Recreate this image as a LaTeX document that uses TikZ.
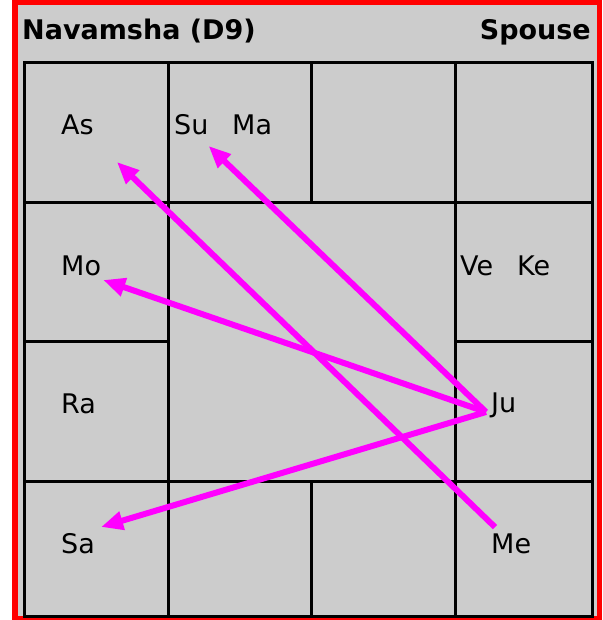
\documentclass[tikz,border=0pt]{standalone}
\usepackage{fontspec}
\setmainfont{DejaVu Sans}
\usetikzlibrary{arrows.meta}
\definecolor{chartbg}{HTML}{CCCCCC}
\definecolor{frame}{HTML}{FF0000}
\definecolor{aspect}{HTML}{FF00FF}

\begin{document}
\begin{tikzpicture}[
      x=1pt, y=-1pt,
      every node/.style={inner sep=0pt, anchor=base west},
      planet/.style={font=\fontsize{27}{27}\selectfont},
      heading/.style={font=\bfseries\fontsize{27}{27}\selectfont},
      gridline/.style={line width=3pt, black},
      arr/.style={-{Triangle[length=22pt,width=18pt]}, draw=aspect, line width=6pt},
    ]
    \useasboundingbox (0,0) rectangle (602,620);
    \fill[chartbg] (12,0) rectangle (602,620);
    \draw[frame, line width=5.5pt] (14.75,2.75) rectangle (599.25,618.5);

    % chart grid
    \draw[gridline] (24,63) rectangle (592,616);
    \draw[gridline] (168,63) -- (168,616);
    \draw[gridline] (455,63) -- (455,616);
    \draw[gridline] (311,63) -- (311,203);
    \draw[gridline] (311,481) -- (311,616);
    \draw[gridline] (24,203) -- (592,203);
    \draw[gridline] (24,481) -- (592,481);
    \draw[gridline] (24,341) -- (168,341);
    \draw[gridline] (455,341) -- (592,341);

    \node[heading] (title) at (22,40) {Navamsha (D9)};
    \node[heading, anchor=base east] (spouse) at (591,40) {Spouse};

    \node[planet] (as) at (61,135) {As};
    \node[planet] (su) at (174,135) {Su};
    \node[planet] (ma) at (232,135) {Ma};
    \node[planet] (mo) at (61,275) {Mo};
    \node[planet] (ve) at (460,275) {Ve};
    \node[planet] (ke) at (517,275) {Ke};
    \node[planet] (ra) at (61,413) {Ra};
    \node[planet] (ju) at (491,412) {Ju};
    \node[planet] (sa) at (61,553) {Sa};
    \node[planet] (me) at (491,553) {Me};

    \coordinate (ju tail) at ([xshift=-5pt]ju.base west);
    \coordinate (me tail) at ([xshift=4pt,yshift=6pt]me.north west);
    \coordinate (as tip) at ([xshift=23pt,yshift=-27pt]as.base east);
    \coordinate (su tip) at ([xshift=0pt,yshift=-11pt]su.base east);
    \coordinate (mo tip) at ([xshift=2pt,yshift=-5pt]mo.base east);
    \coordinate (sa tip) at ([xshift=6pt,yshift=26pt]sa.base east);

    \draw[arr] (ju tail) -- (mo tip);
    \draw[arr] (ju tail) -- (sa tip);
    \draw[arr] (ju tail) -- (su tip);
    \draw[arr] (me tail) -- (as tip);
  \end{tikzpicture}
\end{document}
